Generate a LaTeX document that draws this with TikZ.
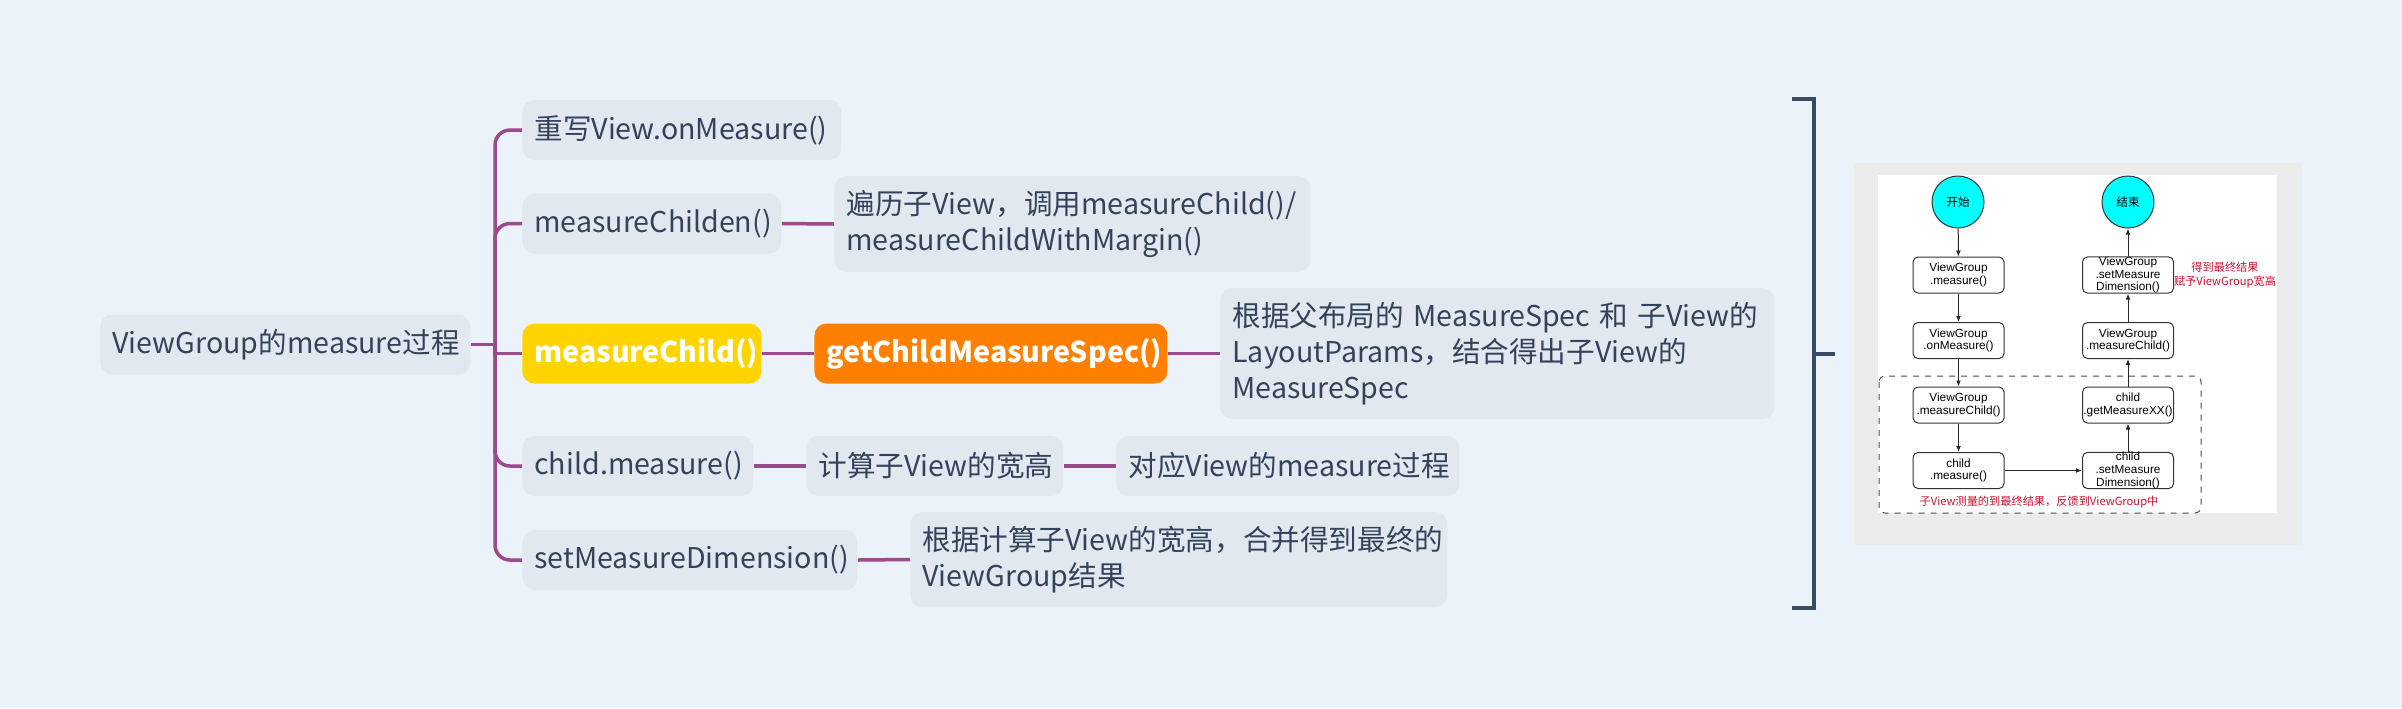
\documentclass[tikz,border=0pt]{standalone}
\usepackage{fontspec}
\setmainfont{Noto Sans CJK SC}
\newfontfamily\flowfont{Liberation Sans}
\usetikzlibrary{arrows.meta}
\definecolor{canvas}{HTML}{EBF2FA}
\definecolor{topicbg}{HTML}{E1E8F0}
\definecolor{ink}{HTML}{34435A}
\definecolor{branchc}{HTML}{9B4A8C}
\definecolor{hiyellow}{HTML}{FFD400}
\definecolor{hiorange}{HTML}{FF8000}
\definecolor{bracketc}{HTML}{3B4A63}
\definecolor{shotgrey}{HTML}{ECECEC}
\definecolor{flowred}{HTML}{CC1133}
\definecolor{flowcyan}{HTML}{00FFFF}
\begin{document}
\begin{tikzpicture}[x=0.5pt,y=-0.5pt,
    topic/.style={fill=topicbg,rounded corners=6pt,anchor=west,inner xsep=6pt,inner ysep=0pt,
      align=left,text=ink,minimum height=30pt,font=\fontsize{14.3pt}{18pt}\selectfont},
    hot/.style={topic,fill=#1,text=white,font=\fontsize{14.3pt}{18pt}\selectfont\bfseries},
    branch/.style={draw=branchc,line width=1.75pt},
    bracket/.style={draw=bracketc,line width=2pt},
    fbox/.style={draw=black!80,fill=white,rounded corners=2.5pt,minimum width=45.5pt,minimum height=18pt,
      inner sep=0pt,align=center,line width=0.5pt,font=\flowfont\fontsize{5.9pt}{6.3pt}\selectfont},
    fcirc/.style={circle,draw=black!80,fill=flowcyan,minimum size=26pt,inner sep=0pt,line width=0.5pt,
      font=\fontsize{5.8pt}{7pt}\selectfont},
    farrow/.style={-{Latex[length=3pt,width=2.4pt]},line width=0.5pt,black!85},
    fnote/.style={text=flowred,align=center,inner sep=0pt,font=\fontsize{5.6pt}{7.4pt}\selectfont}]
\fill[canvas] (0,0) rectangle (2402,708);
\useasboundingbox (0,0) rectangle (2402,708);

\node[topic,text width=173pt] (root) at (100,344.5) {ViewGroup的measure过程};
\node[topic,text width=147.5pt] (n1) at (522,130) {重写View.onMeasure()};
\node[topic,text width=117.5pt] (n2) at (522,223.5) {measureChilden()};
\node[hot=hiyellow,text width=107.5pt] (n3) at (522,353.5) {measureChild()};
\node[topic,text width=103.5pt] (n4) at (522,466) {child.measure()};
\node[topic,text width=155.5pt] (n5) at (522,560) {setMeasureDimension()};

\node[topic,text width=226pt,minimum height=48pt] (m2) at (834,224) {遍历子View，调用measureChild()/\\measureChildWithMargin()};
\node[hot=hiorange,text width=164.5pt] (m3) at (814,353.5) {getChildMeasureSpec()};
\node[topic,text width=265pt,minimum height=65.5pt] (m3b) at (1220,353.5) {根据父布局的 MeasureSpec 和 子View的\\LayoutParams，结合得出子View的\\MeasureSpec};
\node[topic,text width=116.5pt] (m4) at (806,466) {计算子View的宽高};
\node[topic,text width=159.5pt] (m4b) at (1116,466) {对应View的measure过程};
\node[topic,text width=256.5pt,minimum height=47.5pt] (m5) at (910,559.5) {根据计算子View的宽高，合并得到最终的\\ViewGroup结果};

\coordinate (fork) at (495,344.5);
\draw[branch] (root.east) -- (fork);
\foreach \n in {n1,n2,n4,n5}
  \draw[branch,rounded corners=7.5pt] (fork) |- (\n.west);
\draw[branch] (fork) |- (n3.west);
\draw[branch] (n2.east) -- (m2.west);
\draw[branch] (n3.east) -- (m3.west);
\draw[branch] (m3.east) -- (m3b.west);
\draw[branch] (n4.east) -- (m4.west);
\draw[branch] (m4.east) -- (m4b.west);
\draw[branch] (n5.east) -- (m5.west);

\draw[bracket] (1792,99) -- (1814,99) -- (1814,608) -- (1792,608);
\draw[bracket] (1814,354) -- (1835,354);

\fill[shotgrey] (1854,163) rectangle (2302,545);
\fill[white] (1878,175) rectangle (2277,513);
\draw[black!70,dashed,line width=0.5pt,rounded corners=3pt] (1879,376) rectangle (2201,513);

\node[fcirc] (start) at (1958,202) {开始};
\node[fcirc] (stop) at (2128,202) {结束};
\node[fbox] (vgm) at (1958.5,275) {ViewGroup\\.measure()};
\node[fbox] (vgon) at (1958.5,340.5) {ViewGroup\\.onMeasure()};
\node[fbox] (vgmc) at (1958.5,405) {ViewGroup\\.measureChild()};
\node[fbox] (cm) at (1958.5,470.5) {child\\.measure()};
\node[fbox] (vgsd) at (2128,275) {ViewGroup\\.setMeasure\\Dimension()};
\node[fbox] (vgmc2) at (2128,340.5) {ViewGroup\\.measureChild()};
\node[fbox] (cgm) at (2128,405) {child\\.getMeasureXX()};
\node[fbox] (csd) at (2128,470.5) {child\\.setMeasure\\Dimension()};
\node[fnote] (note1) at (2225,275) {得到最终结果\\赋予ViewGroup宽高};
\node[fnote] (note2) at (2039,502) {子View测量的到最终结果，反馈到ViewGroup中};

\draw[farrow] (start) -- (vgm);
\draw[farrow] (vgm) -- (vgon);
\draw[farrow] (vgon) -- (vgmc);
\draw[farrow] (vgmc) -- (cm);
\draw[farrow] (cm) -- (csd);
\draw[farrow] (csd) -- (cgm);
\draw[farrow] (cgm) -- (vgmc2);
\draw[farrow] (vgmc2) -- (vgsd);
\draw[farrow] (vgsd) -- (stop);
\end{tikzpicture}
\end{document}
